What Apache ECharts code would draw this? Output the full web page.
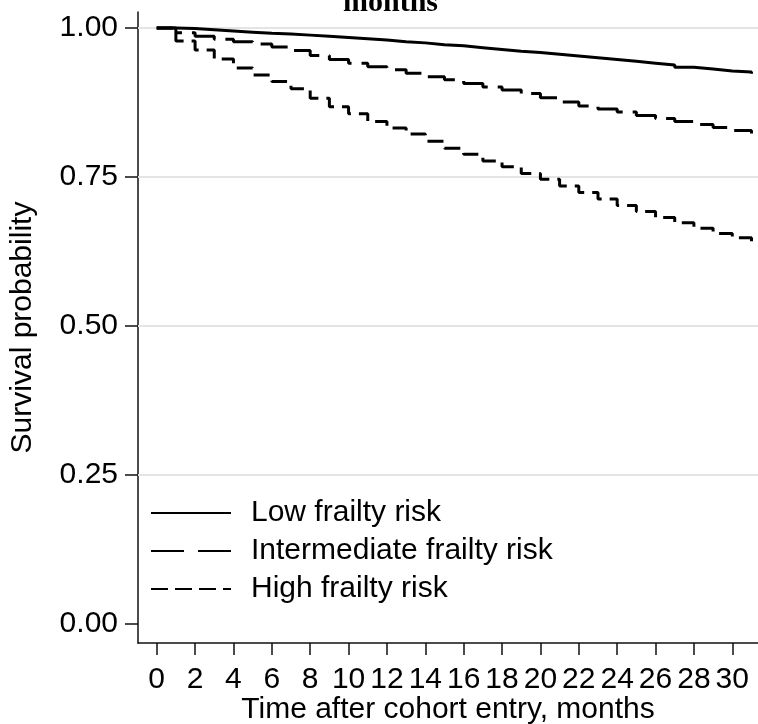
<!DOCTYPE html>
<html>
<head>
<meta charset="utf-8">
<script src="https://cdn.jsdelivr.net/npm/echarts@6/dist/echarts.min.js"></script>
<style>
html,body{margin:0;padding:0;background:#fff;}
#chart{width:758px;height:724px;}
</style>
</head>
<body>
<div id="chart"></div>
<script>
// ---- data ----
const months = [0,1,2,3,4,5,6,7,8,9,10,11,12,13,14,15,16,17,18,19,20,21,22,23,24,25,26,27,28,29,30,31];
const lowRisk = [1.000,0.999,0.997,0.995,0.993,0.991,0.990,0.988,0.986,0.984,0.982,0.980,0.977,0.975,0.972,0.970,0.967,0.964,0.961,0.959,0.956,0.953,0.950,0.947,0.944,0.941,0.938,0.934,0.931,0.928,0.926,0.923];
const intermediateRisk = [1.000,0.992,0.986,0.981,0.977,0.973,0.968,0.962,0.954,0.947,0.941,0.935,0.930,0.924,0.918,0.913,0.907,0.901,0.896,0.890,0.883,0.876,0.869,0.864,0.859,0.853,0.848,0.843,0.838,0.833,0.828,0.823];
const highRisk = [1.000,0.978,0.963,0.948,0.933,0.921,0.910,0.898,0.882,0.868,0.856,0.843,0.832,0.822,0.810,0.798,0.788,0.777,0.767,0.756,0.746,0.735,0.724,0.713,0.702,0.692,0.682,0.673,0.664,0.655,0.648,0.641];
const seriesNames = ['Low frailty risk','Intermediate frailty risk','High frailty risk'];
const xTicks = [0,2,4,6,8,10,12,14,16,18,20,22,24,26,28,30];
const yTicks = [0,0.25,0.5,0.75,1];
const gridValues = [0.25,0.5,0.75,1];

const pairs = (vals) => months.map((m, i) => [m, vals[i]]);
const FONT = 'Liberation Sans';
const LONG_DASH = [30, 10];
const SHORT_DASH = [16, 8];

const chart = echarts.init(document.getElementById('chart'), null, {renderer: 'canvas'});
chart.setOption({
  animation: false,
  backgroundColor: '#fff',
  title: {
    text: 'months',
    left: 343, top: -12, padding: 0,
    textStyle: {fontFamily: 'Liberation Serif', fontWeight: 'bold', fontSize: 30, color: '#000'}
  },
  grid: {left: 138, right: 0, top: 12, bottom: 81, containLabel: false, outerBoundsMode: 'none'},
  legend: {
    orient: 'vertical',
    left: 150, top: 498, padding: 0,
    itemWidth: 80, itemHeight: 14, itemGap: 8,
    itemStyle: {color: 'rgba(0,0,0,0)', borderColor: 'rgba(0,0,0,0)', borderWidth: 0},
    textStyle: {fontFamily: FONT, fontSize: 30, color: '#000', lineHeight: 30, padding: [0,0,0,15]},
    data: [
      {name: seriesNames[0]},
      {name: seriesNames[1], lineStyle: {type: [33, 14]}},
      {name: seriesNames[2], lineStyle: {type: [17, 7]}}
    ]
  },
  xAxis: {
    type: 'value',
    min: -0.975, max: 31.34,
    name: 'Time after cohort entry, months',
    nameLocation: 'middle', nameGap: 52, nameMoveOverlap: false,
    nameTextStyle: {fontFamily: FONT, fontSize: 30, color: '#000'},
    axisLine: {show: true, onZero: false, lineStyle: {color: '#111', width: 1.5}},
    axisTick: {show: true, length: 12, customValues: xTicks, lineStyle: {color: '#111', width: 1.5}},
    axisLabel: {show: true, customValues: xTicks, margin: 22, fontFamily: FONT, fontSize: 30, color: '#000', hideOverlap: false},
    splitLine: {show: false}
  },
  yAxis: {
    type: 'value',
    min: -0.0319, max: 1.0268,
    name: 'Survival probability',
    nameLocation: 'middle', nameGap: 100, nameMoveOverlap: false,
    nameTextStyle: {fontFamily: FONT, fontSize: 30, color: '#000'},
    axisLine: {show: true, onZero: false, lineStyle: {color: '#111', width: 1.5}},
    axisTick: {show: true, length: 13, customValues: yTicks, lineStyle: {color: '#111', width: 1.5}},
    axisLabel: {show: true, customValues: yTicks, margin: 20, fontFamily: FONT, fontSize: 30, color: '#000',
      formatter: (v) => Number(v).toFixed(2)},
    splitLine: {show: false}
  },
  series: [
    {
      name: seriesNames[0], type: 'line', step: 'end', symbol: 'none', showSymbol: false, z: 3,
      lineStyle: {color: '#000', width: 3, type: 'solid'},
      itemStyle: {color: '#000'},
      data: pairs(lowRisk),
      markLine: {
        silent: true, symbol: 'none', z: 1,
        label: {show: false},
        lineStyle: {color: '#e4e4e4', width: 2, type: 'solid'},
        data: gridValues.map(v => ({yAxis: v}))
      }
    },
    {
      name: seriesNames[1], type: 'line', step: 'end', symbol: 'none', showSymbol: false, z: 3,
      lineStyle: {color: '#000', width: 3, type: LONG_DASH},
      itemStyle: {color: '#000'},
      data: pairs(intermediateRisk)
    },
    {
      name: seriesNames[2], type: 'line', step: 'end', symbol: 'none', showSymbol: false, z: 3,
      lineStyle: {color: '#000', width: 3, type: SHORT_DASH},
      itemStyle: {color: '#000'},
      data: pairs(highRisk)
    }
  ]
});
</script>
</body>
</html>
